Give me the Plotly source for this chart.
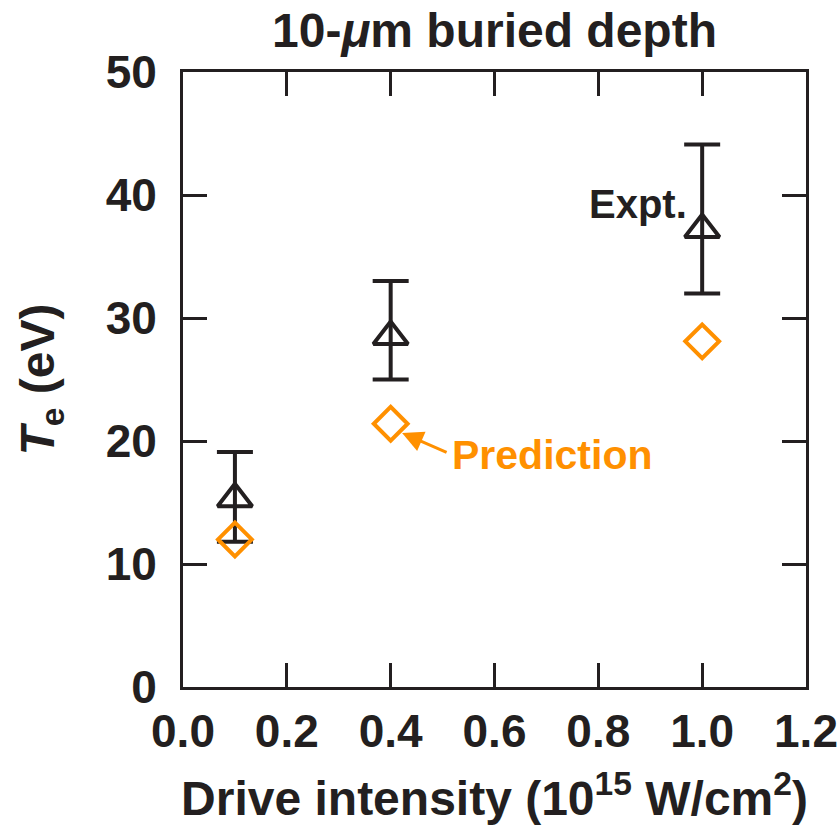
import plotly.graph_objects as go

# Data
intensity = [0.1, 0.4, 1.0]
expt_te = [15.3, 28.5, 37.2]
expt_err_plus = [3.8, 4.5, 6.9]
expt_err_minus = [3.5, 3.5, 5.2]
pred_te = [12.0, 21.4, 28.1]

x_ticks = [0.0, 0.2, 0.4, 0.6, 0.8, 1.0, 1.2]
x_tick_labels = ["0.0", "0.2", "0.4", "0.6", "0.8", "1.0", "1.2"]
y_ticks = [0, 10, 20, 30, 40, 50]

FONT = "Liberation Sans, Arial, Helvetica, sans-serif"
BLACK = "#231f20"
ORANGE = "#ff9000"

fig = go.Figure()

fig.add_trace(go.Scatter(
    x=intensity, y=expt_te, mode="markers",
    marker=dict(symbol="triangle-up-open", size=30, color=BLACK, line=dict(width=4, color=BLACK)),
    error_y=dict(type="data", symmetric=False, array=expt_err_plus, arrayminus=expt_err_minus,
                 color=BLACK, thickness=4, width=18),
    showlegend=False,
))

fig.add_trace(go.Scatter(
    x=intensity, y=pred_te, mode="markers",
    marker=dict(symbol="diamond-open", size=26, color=ORANGE, line=dict(width=4, color=ORANGE)),
    showlegend=False,
))

# Labels
fig.add_annotation(x=1.0, y=39.3, xref="x", yref="y", text="Expt.",
                   showarrow=False, xanchor="right", xshift=-13,
                   font=dict(family=FONT, size=40, color=BLACK, weight="bold"))
fig.add_annotation(x=0.514, y=18.9, xref="x", yref="y", text="Prediction",
                   showarrow=False, xanchor="left",
                   font=dict(family=FONT, size=41, color=ORANGE, weight="bold"))
fig.add_annotation(x=0.422, y=20.65, xref="x", yref="y", text="",
                   showarrow=True, ax=46, ay=20, arrowhead=2, arrowsize=1.4,
                   arrowwidth=3, arrowcolor=ORANGE)

axis_common = dict(
    showline=True, linewidth=3, linecolor=BLACK, mirror="allticks",
    ticks="inside", ticklen=24, tickwidth=3, tickcolor=BLACK,
    showgrid=False, zeroline=False, automargin=False,
    ticklabeloverflow="allow",
    tickfont=dict(family=FONT, size=46, color=BLACK, weight="bold"),
)

fig.update_xaxes(range=[0, 1.2], tickvals=x_ticks, ticktext=x_tick_labels,
                 title=dict(text="Drive intensity (10<sup>15</sup> W/cm<sup>2</sup>)",
                            font=dict(family=FONT, size=48, color=BLACK, weight="bold"), standoff=27),
                 ticklabelstandoff=2,
                 **axis_common)
fig.update_yaxes(range=[0, 50], tickvals=y_ticks,
                 title=dict(text="<i>T</i><sub>e</sub> (eV)",
                            font=dict(family=FONT, size=48, color=BLACK, weight="bold"), standoff=36),
                 ticklabelstandoff=14,
                 **axis_common)

fig.update_layout(
    width=839, height=825,
    margin=dict(l=183, r=33, t=72, b=138),
    plot_bgcolor="white", paper_bgcolor="white",
    title=dict(text="10-<i>μ</i>m buried depth", x=0.5, xref="paper", xanchor="center",
               y=0.964, yanchor="middle",
               font=dict(family=FONT, size=48, color=BLACK, weight="bold")),
)

# remove the default page margin so the figure fills the window exactly
fig.write_html("out.html",
               config={"displayModeBar": False},
               post_script="document.body.style.margin='0';document.body.style.overflow='hidden';")
